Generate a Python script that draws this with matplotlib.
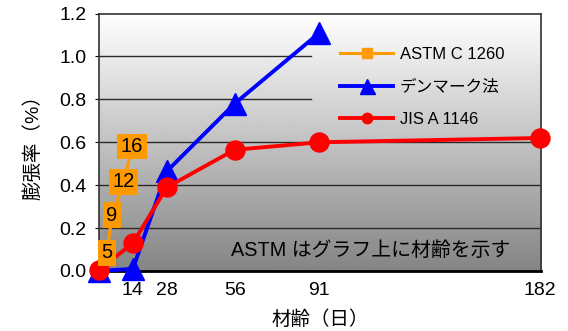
import numpy as np
import matplotlib.pyplot as plt

plt.rcParams['font.family'] = ['Liberation Sans', 'Noto Sans CJK JP']

# 材齢(日) と 膨張率(%)
astm_age = [0, 3.3, 5.4, 10.3, 13.6]
astm_exp = [0.0, 0.085, 0.26, 0.415, 0.58]
astm_days = ['', '5', '9', '12', '16']

den_age = [0, 14, 28, 56, 91]
den_exp = [0.0, 0.01, 0.465, 0.78, 1.11]

jis_age = [0, 14, 28, 56, 91, 182]
jis_exp = [0.005, 0.13, 0.39, 0.565, 0.60, 0.62]

xticks = [14, 28, 56, 91, 182]
yticks = [0.0, 0.2, 0.4, 0.6, 0.8, 1.0, 1.2]

fig = plt.figure(figsize=(5.68, 3.31), dpi=100)
ax = fig.add_axes([0.1743, 0.1813, 0.7782, 0.7777])
ax.set_xlim(0, 182.5)
ax.set_ylim(0, 1.2)

# 背景のグラデーション(上:白 → 下:灰色)
grad = np.linspace(1.0, 0.52, 256).reshape(-1, 1)
ax.imshow(grad, cmap='gray', vmin=0, vmax=1, aspect='auto',
          extent=[0, 182.5, 0, 1.2], origin='upper', zorder=0)

# 目盛線 (凡例の下は隠れる)
for y in yticks[1:-1]:
    xmax = 0.48 if y >= 0.8 else 1.0
    ax.axhline(y, xmin=0, xmax=xmax, color='#2a2a2a', lw=1.0, zorder=1)

ax.plot(astm_age, astm_exp, color='#ff9900', lw=2.2, marker='s', ms=7,
        label='ASTM C 1260', zorder=3, clip_on=False)
ax.plot(den_age, den_exp, color='#0000ff', lw=2.8, marker='^', ms=16,
        label='デンマーク法', zorder=4, clip_on=False)
ax.plot(jis_age, jis_exp, color='#ff0000', lw=2.8, marker='o', ms=13.7,
        label='JIS A 1146', zorder=5, clip_on=False)

# ASTM の材齢ラベル
for x, y, t in zip(astm_age, astm_exp, astm_days):
    if t:
        ax.text(x, y, t, ha='center', va='center', fontsize=14.5, zorder=6,
                bbox=dict(boxstyle='square,pad=0.17', fc='#ff9900', ec='none'))

ax.text(0.93, 0.08, 'ASTM はグラフ上に材齢を示す', transform=ax.transAxes,
        ha='right', va='center', fontsize=14.3)

ax.set_xticks(xticks)
ax.set_yticks(yticks)
ax.set_yticklabels([f'{v:.1f}' for v in yticks])
ax.tick_params(axis='x', length=0, labelsize=14, pad=8)
ax.tick_params(axis='y', length=3, labelsize=14, pad=6)
for s in ['top', 'right', 'left']:
    ax.spines[s].set_color('#333333')
    ax.spines[s].set_linewidth(1.2)
ax.spines['bottom'].set_linewidth(2)
ax.spines['bottom'].set_color('black')

ax.set_xlabel('材齢（日）', fontsize=14, labelpad=8)
ax.set_ylabel('膨張率（%）', fontsize=14, labelpad=12)

leg = ax.legend(loc='upper left', bbox_to_anchor=(0.545, 0.87), frameon=False,
                fontsize=12, handlelength=3.2, borderpad=0, borderaxespad=0,
                labelspacing=1.05, handletextpad=0.4)
leg.set_zorder(7)
for h, ms in zip(leg.legend_handles, [7.5, 10.8, 7.5]):
    h.set_markersize(ms)

fig.savefig('out.png', dpi=100)
